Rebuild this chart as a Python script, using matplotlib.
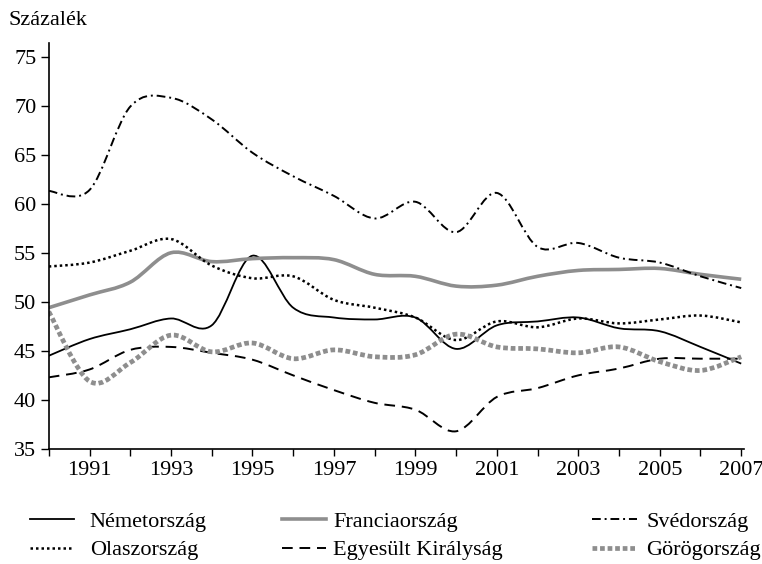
import matplotlib
matplotlib.use("Agg")
import matplotlib.pyplot as plt
import numpy as np
from matplotlib.path import Path
from matplotlib.patches import PathPatch
from matplotlib.lines import Line2D

# adatok (százalék)
years = list(range(1990, 2008))
nemet = [44.5, 46.2, 47.2, 48.3, 47.6, 54.7, 49.4, 48.4, 48.2, 48.4, 45.2, 47.6, 48.0, 48.4, 47.3, 47.0, 45.4, 43.7]
francia = [49.4, 50.7, 52.0, 55.0, 54.1, 54.4, 54.5, 54.3, 52.8, 52.6, 51.6, 51.7, 52.6, 53.2, 53.3, 53.4, 52.8, 52.3]
sved = [61.3, 61.4, 69.9, 70.8, 68.6, 65.2, 62.8, 60.8, 58.5, 60.2, 57.1, 61.1, 55.6, 56.0, 54.5, 54.0, 52.6, 51.4]
olasz = [53.6, 54.0, 55.2, 56.4, 53.7, 52.4, 52.6, 50.2, 49.4, 48.4, 46.1, 48.0, 47.4, 48.3, 47.8, 48.2, 48.6, 47.9]
egyesult = [42.3, 43.1, 45.1, 45.4, 44.8, 44.1, 42.5, 41.0, 39.7, 39.0, 36.8, 40.3, 41.2, 42.5, 43.2, 44.2, 44.2, 44.2]
gorog = [49.0, 41.9, 43.8, 46.6, 44.9, 45.8, 44.2, 45.1, 44.4, 44.6, 46.7, 45.4, 45.2, 44.8, 45.4, 43.9, 43.0, 44.4]

gray = "#8e8e8e"
series = [
    ("Németország", nemet, dict(color="black", lw=1.3, ls="-")),
    ("Franciaország", francia, dict(color=gray, lw=2.6, ls="-")),
    ("Svédország", sved, dict(color="black", lw=1.4, ls=(0, (4.5, 2, 1, 2)))),
    ("Olaszország", olasz, dict(color="black", lw=1.8, ls=(0, (1, 1.2)))),
    ("Egyesült Királyság", egyesult, dict(color="black", lw=1.4, ls=(0, (5.5, 3.5)))),
    ("Görögország", gorog, dict(color=gray, lw=3.4, ls=(0, (1, 0.6)))),
]


def smooth_path(x, y):
    # Catmull-Rom -> Bezier, hogy a vonal sima legyen
    p = np.column_stack([x, y]).astype(float)
    ext = np.vstack([p[0], p, p[-1]])
    verts = [p[0]]
    codes = [Path.MOVETO]
    for i in range(len(p) - 1):
        p0, p1, p2, p3 = ext[i], ext[i + 1], ext[i + 2], ext[i + 3]
        verts += [p1 + (p2 - p0) / 6, p2 - (p3 - p1) / 6, p2]
        codes += [Path.CURVE4] * 3
    return Path(verts, codes)


plt.rcParams["font.family"] = ["Liberation Serif", "DejaVu Serif"]
fig = plt.figure(figsize=(7.62, 5.64), dpi=100)
ax = fig.add_axes([0.064, 0.204, 0.913, 0.72])

handles = []
for name, vals, st in series:
    patch = PathPatch(smooth_path(years, vals), fill=False, edgecolor=st["color"],
                      linewidth=st["lw"], linestyle=st["ls"], capstyle="butt")
    ax.add_patch(patch)
    handles.append(Line2D([], [], color=st["color"], lw=st["lw"], ls=st["ls"], label=name))

ax.set_xlim(1990, 2007.08)
ax.set_ylim(35, 76.4)
ax.set_yticks(range(35, 80, 5))
ax.set_xticks(years)
ax.set_xticklabels([str(y) if y % 2 == 1 else "" for y in years])
ax.tick_params(axis="both", labelsize=16, direction="out", color="black", width=1)
ax.tick_params(axis="x", length=5, pad=4)
ax.tick_params(axis="y", length=6, pad=3)
for s in ["top", "right"]:
    ax.spines[s].set_visible(False)
for s in ["left", "bottom"]:
    ax.spines[s].set_linewidth(1.2)

fig.text(0.0105, 0.963, "Százalék", fontsize=16, va="center", ha="left")

# jelmagyarázat: három oszlop, külön elhelyezve
col_x = [0.039, 0.370, 0.777]
col_pad = [0.7, 0.3, 0.45]
for c in range(3):
    leg = fig.legend(handles=[handles[c], handles[c + 3]], loc="center left",
                     bbox_to_anchor=(col_x[c], 0.0496), frameon=False, fontsize=16,
                     handlelength=2.0, handletextpad=col_pad[c], labelspacing=0.35,
                     borderpad=0, borderaxespad=0)

fig.savefig("out.png", dpi=100)
